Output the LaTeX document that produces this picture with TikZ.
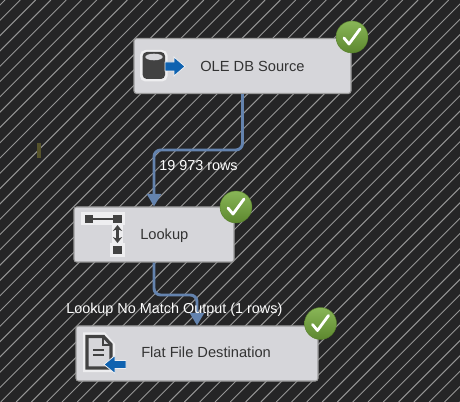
\documentclass[tikz,border=0pt]{standalone}
\usepackage{fontspec}
\setmainfont{Liberation Sans}
\usetikzlibrary{arrows.meta}
\definecolor{bgdark}{HTML}{252526}
\definecolor{hatch}{HTML}{959595}
\definecolor{boxfill}{HTML}{D6D6DA}
\definecolor{boxline}{HTML}{9A9A9A}
\definecolor{flow}{HTML}{6483AE}
\definecolor{okgreen}{HTML}{74A93A}
\definecolor{icondark}{HTML}{424242}
\definecolor{iconblue}{HTML}{0F62B0}
\definecolor{halo}{HTML}{EEEEF0}
\tikzset{
  x=0.75pt,y=-0.75pt,
  taskbox/.style={draw=boxline,line width=0.8pt,fill=boxfill,rounded corners=2pt,inner sep=0pt,minimum height=41.25pt},
  tasklabel/.style={text=black!80,font=\fontsize{11}{13}\selectfont,inner sep=0pt,anchor=base west},
  pathlabel/.style={text=white,font=\fontsize{10.8}{13}\selectfont,inner sep=0pt,anchor=base west},
  flowline/.style={draw=flow,line width=2.2pt,rounded corners=5pt,-{Triangle[width=10.5pt,length=9.5pt]}},
  okbadge/.style={circle,inner sep=0pt,minimum size=24pt,draw=okgreen!75!black,line width=0.3pt,top color=okgreen!85!white,bottom color=okgreen!80!black},
  tick/.style={draw=white,line width=2.1pt,line cap=round,line join=round},
}
\begin{document}
\begin{tikzpicture}
\useasboundingbox (0,0) rectangle (460,402);
\fill[bgdark] (0,0) rectangle (460,402);
\begin{scope}
\clip (0,0) rectangle (460,402);
\foreach \k in {0,...,58}{
  \draw[hatch,line width=0.7pt] ({\k*15.3+5},0) -- ({\k*15.3+5-402},402);
}
\end{scope}
\fill[black!50!olive] (36.5,143) rectangle (41,158);
% nodes
\node[taskbox,minimum width=162.75pt] (ole) at (242.5,66) {};
\node[taskbox,minimum width=120pt] (lookup) at (154,234.5) {};
\node[taskbox,minimum width=181.5pt] (flat) at (197,353.5) {};
\coordinate (bendA) at (200,150);
\coordinate (bendB) at (175,295);
\draw[flowline] (ole.south) |- (bendA) -| (lookup.north);
\draw[flowline] (lookup.south) |- (bendB) -| (flat.north);
% labels
\node[tasklabel] (oletext) at (200,71.5) {OLE DB Source};
\node[tasklabel] (lookuptext) at (140,240) {Lookup};
\node[tasklabel] (flattext) at (141,358) {Flat File Destination};
\node[pathlabel] (rowsA) at (159,171) {19 973 rows};
\node[pathlabel] (rowsB) at (66,314) {Lookup No Match Output (1 rows)};
% badges
\foreach \n/\cx/\cy in {a/352/37,b/236/207,c/320.5/323.5}{
  \node[okbadge] (badge\n) at (\cx,\cy) {};
  \draw[tick] (\cx-8,\cy+1) -- (\cx-3,\cy+7) -- (\cx+8,\cy-8);
}
% OLE icon: cylinder and arrow
\fill[halo,rounded corners=4pt] (140,50) rectangle (167.5,81.5);
\fill[icondark,rounded corners=3pt] (142.7,52) rectangle (165,79);
\fill[boxfill] (154,57) ellipse [x radius=8.7,y radius=3.3];
\path[fill=iconblue,draw=halo,line width=0.6pt] (165,62) -- (174,62) -- (174,57) -- (185,66.5) -- (174,76) -- (174,71) -- (165,71) -- cycle;
% Lookup icon
\fill[halo] (81,212) rectangle (125,225);
\fill[halo] (112,225) rectangle (123,243);
\fill[halo] (110,243) rectangle (125,257);
\fill[icondark] (85,215) rectangle (93,223);
\fill[icondark] (113,215) rectangle (122,223);
\fill[icondark] (113,246) rectangle (122,254);
\draw[icondark,line width=1.6pt] (93,219) -- (113,219);
\draw[icondark,line width=1.6pt,{Stealth[width=7pt,length=4.5pt]}-{Stealth[width=7pt,length=4.5pt]}] (117.5,225) -- (117.5,243);
% Flat file icon
\path[fill=halo] (83,332.5) -- (105,332.5) -- (115,344) -- (115,372) -- (83,372) -- cycle;
\path[fill=boxfill,draw=icondark,line width=2.4pt,line join=miter] (87,336.5) -- (103.5,336.5) -- (111,344.5) -- (111,368) -- (87,368) -- cycle;
\draw[icondark,line width=1.5pt] (93,350) -- (104,350) (93,355) -- (104,355);
\draw[icondark,line width=1.5pt] (103,337) -- (103,345) -- (111,345);
\path[fill=iconblue,draw=halo,line width=0.6pt] (126,360.5) -- (115,360.5) -- (115,355.5) -- (104,364.5) -- (115,373.5) -- (115,368.5) -- (126,368.5) -- cycle;
\end{tikzpicture}
\end{document}
